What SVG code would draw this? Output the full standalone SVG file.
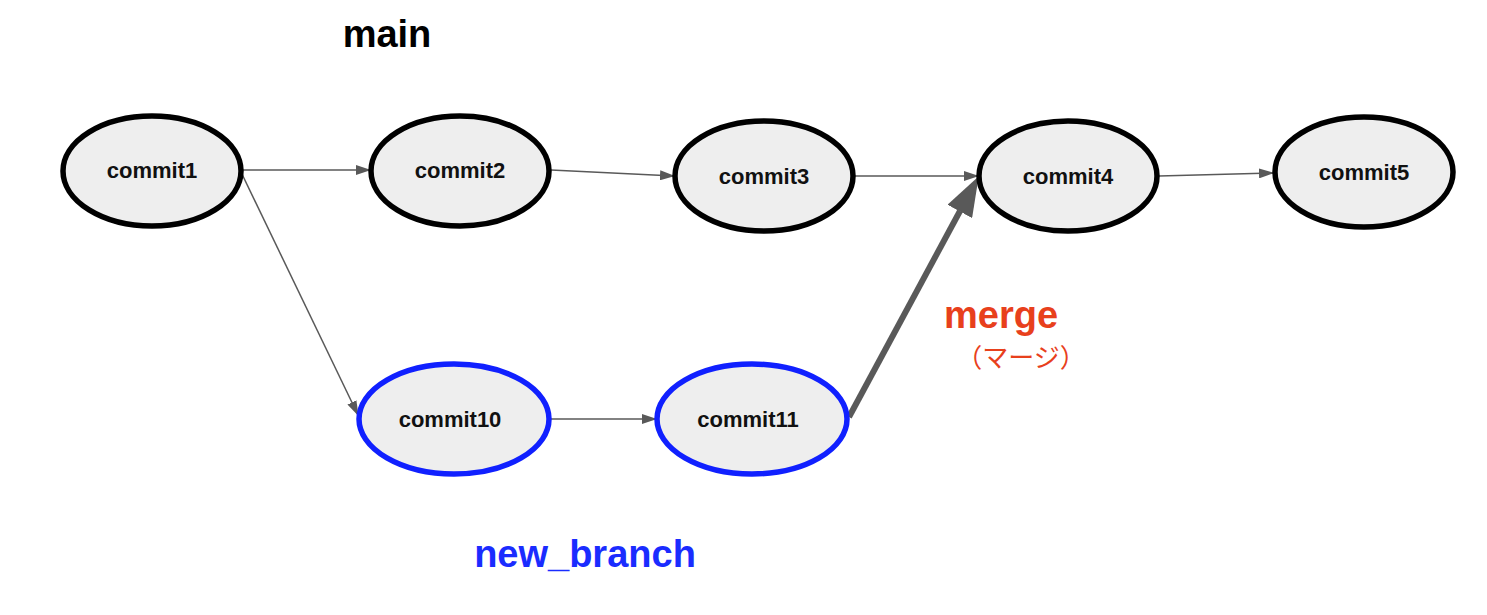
<svg xmlns="http://www.w3.org/2000/svg" width="1487" height="615" viewBox="0 0 1487 615">
<style>
.node ellipse{fill:#eeeeee;stroke:#000000;stroke-width:5.5}
.node.blue ellipse{stroke:#1020ff}
.node text{font-family:"Liberation Sans",Arial,sans-serif;font-weight:bold;font-size:22px;fill:#111111;text-anchor:middle}
.edge{stroke:#595959;stroke-width:1.5;fill:none}
.thick{stroke:#595959;stroke-width:6;fill:none}
.title{font-family:"Liberation Sans",Arial,sans-serif;font-weight:bold;font-size:38px;text-anchor:middle}
</style>
<defs>
<marker id="arr" markerUnits="userSpaceOnUse" markerWidth="15" markerHeight="10" refX="14" refY="5" orient="auto">
<path d="M0,0 L15,5 L0,10 z" fill="#595959"/>
</marker>
<marker id="arrBig" markerUnits="userSpaceOnUse" markerWidth="40" markerHeight="28" refX="0.5" refY="14" orient="auto">
<path d="M0,0 L40,14 L0,28 z" fill="#595959"/>
</marker>
</defs>
<rect width="1487" height="615" fill="#ffffff"/>
<g id="connectors">
<line class="edge" x1="243" y1="170" x2="370" y2="170" marker-end="url(#arr)"/>
<line class="edge" x1="551" y1="170" x2="674" y2="176" marker-end="url(#arr)"/>
<line class="edge" x1="855" y1="176" x2="978" y2="176" marker-end="url(#arr)"/>
<line class="edge" x1="1159" y1="176" x2="1273" y2="173" marker-end="url(#arr)"/>
<line class="edge" x1="241" y1="172" x2="358" y2="415" marker-end="url(#arr)"/>
<line class="edge" x1="551" y1="419" x2="656" y2="419" marker-end="url(#arr)"/>
<line class="thick" x1="849" y1="417" x2="960" y2="211" marker-end="url(#arrBig)"/>
</g>
<g id="commit1" class="node"><ellipse cx="152" cy="171" rx="89" ry="55"/><text x="152" y="178">commit1</text></g>
<g id="commit2" class="node"><ellipse cx="460" cy="171" rx="89" ry="55"/><text x="460" y="178">commit2</text></g>
<g id="commit3" class="node"><ellipse cx="764" cy="176" rx="89" ry="55"/><text x="764" y="184">commit3</text></g>
<g id="commit4" class="node"><ellipse cx="1068" cy="176" rx="89" ry="55"/><text x="1068" y="184">commit4</text></g>
<g id="commit5" class="node"><ellipse cx="1364" cy="172" rx="89" ry="55"/><text x="1364" y="180">commit5</text></g>
<g id="commit10" class="node blue"><ellipse cx="454" cy="419" rx="95" ry="55"/><text x="450" y="427">commit10</text></g>
<g id="commit11" class="node blue"><ellipse cx="752" cy="419" rx="95" ry="55"/><text x="748" y="427">commit11</text></g>
<g id="labels">
<text class="title" x="387" y="47" fill="#000000">main</text>
<text class="title" x="585" y="567" fill="#1a2cff">new_branch</text>
<text class="title" x="1001" y="328" fill="#e8401c">merge</text>
<text x="1021" y="367" font-family="'Noto Sans CJK JP',sans-serif" font-size="26" fill="#e8401c" text-anchor="middle">（マージ）</text>
</g>
</svg>
